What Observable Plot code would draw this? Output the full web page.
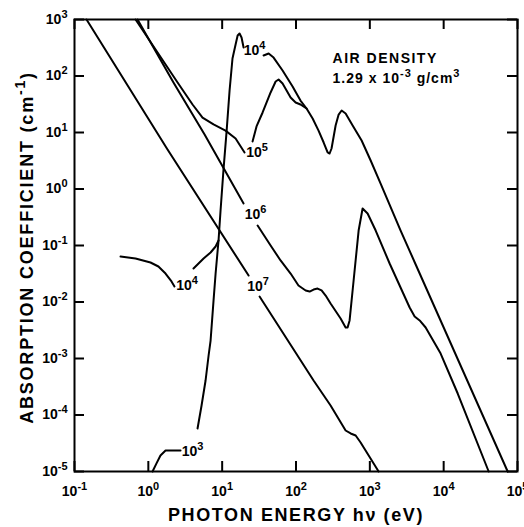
<!DOCTYPE html>
<html>
<head>
<meta charset="utf-8">
<script src="https://cdn.jsdelivr.net/npm/d3@7"></script>
<script src="https://cdn.jsdelivr.net/npm/@observablehq/plot@0.6"></script>
<style>
  html, body { margin: 0; padding: 0; background: #fff; }
</style>
</head>
<body>
<script>
// Absorption coefficient of air (density 1.29e-3 g/cm3) vs photon energy,
// one curve per temperature (K). Each curve is split where its label sits.
// Points are [photon energy (eV), absorption coefficient (cm^-1)].

const t1e7Upper = [[0.1455, 1000], [1.82, 5.0], [22.8, 0.0294]];
const t1e7Lower = [[32.1, 0.0125], [173, 4.08e-4], [294, 1.47e-4], [470, 5.32e-5],
  [550, 4.71e-5], [643, 4.34e-5], [750, 3.26e-5], [1315, 1e-5]];

const t1e6Upper = [[0.714, 1000], [2.19, 76.7], [5.78, 9.22], [19.5, 0.554]];
const t1e6Lower = [[30.2, 0.226], [45.3, 0.100], [61.8, 0.0543], [84.5, 0.0319],
  [108, 0.0196], [135, 0.0160], [153, 0.0153], [173, 0.0166], [196, 0.0173],
  [222, 0.0160], [252, 0.0130], [294, 0.0094], [402, 0.0051], [470, 0.00354],
  [500, 0.00354], [532, 0.00471], [603, 0.0240], [705, 0.184], [798, 0.452],
  [933, 0.368], [1200, 0.184], [1854, 0.048], [3460, 0.0080], [4045, 0.00553],
  [4730, 0.00471], [5700, 0.00354], [9100, 0.00122], [15500, 2.40e-4], [40700, 1e-5]];

const t1e5Left = [[0.671, 1000], [2.49, 76.7], [3.97, 31.3], [5.42, 18.4],
  [7.64, 13.9], [11.1, 10.8], [15.2, 7.83], [20.1, 4.43]];
const t1e5Right = [[25.8, 6.93], [29.2, 12.8], [35.3, 22.6], [45.3, 51.1],
  [53.0, 80.0], [58.1, 86.7], [65.8, 73.6], [84.5, 41.6], [98.8, 34.0],
  [115, 31.3], [139, 26.6]];

const t1e4Left = [[0.420, 0.0638], [0.671, 0.0589], [1.07, 0.0500], [1.37, 0.0425],
  [1.71, 0.0319], [2.06, 0.0231], [2.26, 0.0188]];
const t1e4Right = [[4.09, 0.0392], [5.60, 0.0589], [6.97, 0.0752], [8.15, 0.0960],
  [8.93, 0.1225]];

const t1e3Tail = [[1.14, 1e-5], [1.29, 1.39e-5], [1.46, 1.92e-5], [1.71, 2.35e-5],
  [2.73, 2.35e-5]];
const t1e3Rise = [[4.64, 5.77e-5], [5.26, 1.47e-4], [5.96, 4.08e-4], [6.55, 1.13e-3],
  [6.97, 2.08e-3], [7.64, 0.0106], [8.15, 0.0319], [8.93, 0.1225], [9.51, 0.416],
  [10.4, 2.12], [11.5, 10.8], [12.6, 55.4], [13.8, 204], [15.2, 361], [16.2, 521],
  [17.2, 565], [18.3, 480], [19.5, 319]];
const t1e3High = [[36.4, 231], [42.6, 250], [49.7, 212], [65.8, 125], [89.9, 65.2],
  [115, 36.8], [139, 26.6], [168, 17.7], [202, 10.8], [237, 6.65], [268, 4.43],
  [285, 4.25], [303, 5.21], [344, 13.3], [378, 20.8], [415, 24.5], [470, 21.7],
  [585, 13.3], [774, 7.21], [1026, 3.19], [1400, 1.25], [2612, 0.184],
  [4178, 0.0461], [73600, 1e-5]];

// Curve labels (temperature exponents) and where they sit
const labelExponent = [4, 5, 6, 4, 7, 3];
const labelEnergy = [27.5, 29.7, 28.4, 3.34, 30.6, 3.97];
const labelCoef = [283, 4.34, 0.354, 0.0196, 0.0188, 2.26e-5];

// Decade ticks
const energyTicks = [1e-1, 1e0, 1e1, 1e2, 1e3, 1e4, 1e5];
const coefTicks = [1e-5, 1e-4, 1e-3, 1e-2, 1e-1, 1e0, 1e1, 1e2, 1e3];

// Note in the upper right
const noteLines = ["AIR DENSITY", "1.29 x 10⁻³ g/cm³"];
const noteEnergy = [313, 313];
const noteCoef = [204, 90.4];

// Axis titles
const xTitle = "PHOTON ENERGY hν (eV)";
const yTitle = "ABSORPTION COEFFICIENT (cm⁻¹)";

const supChars = "⁻⁰¹²³⁴⁵⁶⁷⁸⁹";
const plainChars = "-0123456789";
const sup = s => String(s).replace(/[-0-9]/g, c => supChars[plainChars.indexOf(c)]);
const powerLabel = d => "10" + sup(Math.round(Math.log10(d)));

const segments = {
  "1e7a": t1e7Upper, "1e7b": t1e7Lower,
  "1e6a": t1e6Upper, "1e6b": t1e6Lower,
  "1e5a": t1e5Left, "1e5b": t1e5Right,
  "1e4a": t1e4Left, "1e4b": t1e4Right,
  "1e3a": t1e3Tail, "1e3b": t1e3Rise, "1e3c": t1e3High
};
const rows = Object.entries(segments).flatMap(([part, pts]) =>
  pts.map(([E, k]) => ({part, E, k})));

const labels = labelExponent.map((p, i) => ({
  text: "10" + sup(p), E: labelEnergy[i], k: labelCoef[i]
}));
const notes = noteLines.map((t, i) => ({text: t, E: noteEnergy[i], k: noteCoef[i]}));

const W = 524, H = 527;
const mL = 74, mR = 7, mT = 19, mB = 56;
const frameW = W - mL - mR, frameH = H - mT - mB;
const tickLen = 10;

const chart = Plot.plot({
  width: W, height: H,
  marginLeft: mL, marginRight: mR, marginTop: mT, marginBottom: mB,
  style: {
    fontFamily: "'Liberation Sans', Arial, 'DejaVu Sans', sans-serif",
    fontSize: "14px", fontWeight: "bold", color: "#000", background: "#fff"
  },
  x: {type: "log", domain: [1e-1, 1e5], ticks: energyTicks, tickFormat: powerLabel,
      tickSize: 0, tickPadding: 15, label: null},
  y: {type: "log", domain: [1e-5, 1e3], ticks: coefTicks, tickFormat: powerLabel,
      tickSize: 0, tickPadding: 7, label: null},
  marks: [
    // inward ticks on all four sides
    Plot.tickX(energyTicks, {x: d => d, insetTop: frameH - tickLen, strokeWidth: 2}),
    Plot.tickX(energyTicks, {x: d => d, insetBottom: frameH - tickLen, strokeWidth: 2}),
    Plot.tickY(coefTicks, {y: d => d, insetRight: frameW - tickLen, strokeWidth: 2}),
    Plot.tickY(coefTicks, {y: d => d, insetLeft: frameW - tickLen, strokeWidth: 2}),
    Plot.line(rows, {x: "E", y: "k", z: "part", stroke: "#000", strokeWidth: 2,
      strokeLinejoin: "round", strokeLinecap: "round"}),
    Plot.text(labels, {x: "E", y: "k", text: "text", fontSize: 14, fontWeight: "bold",
      fill: "#000", textAnchor: "middle"}),
    Plot.text(notes, {x: "E", y: "k", text: "text", fontSize: 14, fontWeight: "bold",
      fill: "#000", textAnchor: "start"}),
    Plot.frame({stroke: "#000", strokeWidth: 2}),
    Plot.text([xTitle], {frameAnchor: "bottom", dy: 44,
      textAnchor: "middle", lineAnchor: "middle", fontSize: 18,
      fontWeight: "bold", fill: "#000"}),
    Plot.text([yTitle], {frameAnchor: "left", dx: -47, dy: 2,
      textAnchor: "middle", lineAnchor: "middle",
      rotate: -90, fontSize: 18, fontWeight: "bold", fill: "#000"})
  ]
});

document.body.appendChild(chart);

// Wider lettering for the titles and the density note
const spacing = new Map([[xTitle, 1.6], [yTitle, 1.8], [noteLines[0], 1.5], [noteLines[1], 1.0]]);
chart.querySelectorAll("text").forEach(t => {
  const ls = spacing.get(t.textContent);
  if (ls != null) t.setAttribute("letter-spacing", ls);
});

// Draw exponents as raised, smaller digits instead of the small Unicode glyphs
const supPattern = /([⁻⁰¹²³⁴⁵⁶⁷⁸⁹]+)|([^⁻⁰¹²³⁴⁵⁶⁷⁸⁹]+)/g;
chart.querySelectorAll("text").forEach(t => {
  if (t.querySelector("tspan")) return;
  const s = t.textContent;
  if (!/[⁻⁰¹²³⁴⁵⁶⁷⁸⁹]/.test(s)) return;
  const fs = parseFloat(getComputedStyle(t).fontSize) || 14;
  const rise = Math.round(fs * 0.42);
  t.textContent = "";
  let raised = false;
  for (const m of s.matchAll(supPattern)) {
    const span = document.createElementNS("http://www.w3.org/2000/svg", "tspan");
    if (m[1]) {
      span.textContent = [...m[1]].map(c => plainChars[supChars.indexOf(c)]).join("");
      span.setAttribute("font-size", Math.round(fs * 0.78));
      span.setAttribute("dy", raised ? 0 : -rise);
      raised = true;
    } else {
      span.textContent = m[2];
      span.setAttribute("dy", raised ? rise : 0);
      raised = false;
    }
    t.appendChild(span);
  }
});
</script>
</body>
</html>
